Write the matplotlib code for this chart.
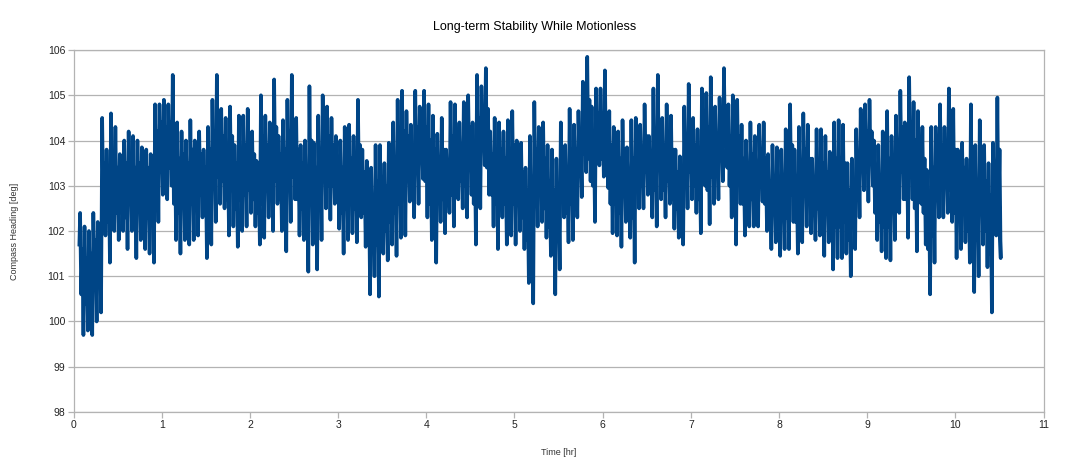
import matplotlib
matplotlib.use("Agg")
import matplotlib.pyplot as plt
import numpy as np

plt.rcParams['font.family'] = ['Liberation Sans', 'DejaVu Sans']

# heading in 0.05 hr bins
# hi/lo = extreme excursions in the bin, core_hi/core_lo = the dense band inside it
t_first = 0.075  # hr, first bin
t_step = 0.05    # hr, bin width
start_pt = (0.066, 101.7)
end_pt = (10.495, 102.6)

heading_hi = [
    102.4, 102.1, 102.0, 102.4, 102.2,
    104.5, 103.8, 104.6, 104.3, 103.7, 104.0, 104.2, 104.1, 104.0, 103.85, 103.8, 103.7,
    104.8, 104.8, 104.9, 104.8, 105.45, 104.4, 104.2, 104.0, 104.45,
    104.0, 104.2, 103.8, 104.3, 104.9, 105.45, 104.7, 104.5, 104.75, 103.9, 104.55, 104.55,
    104.7, 104.2, 103.55, 105.0, 104.55, 104.4, 105.35, 104.1, 104.45, 104.9, 105.45, 104.5,
    103.9, 104.0, 105.2,
    103.95, 104.55, 105.0, 104.75, 104.5, 104.1, 104.0, 104.3, 104.35, 104.1, 104.9, 103.8,
    103.55, 103.4, 103.9, 103.9, 103.5, 103.95, 104.4, 104.9, 105.1, 104.65, 104.35, 105.1,
    104.75, 105.1,
    104.8, 104.55, 104.15, 104.5, 103.8, 104.85, 104.8, 104.4, 104.85, 105.0, 104.4, 105.45,
    105.2, 105.6, 104.2, 104.5, 104.4, 104.2, 104.45, 104.65, 104.0, 103.95, 103.4, 104.1,
    104.85, 104.3,
    104.4, 103.9, 103.8, 103.6, 104.4, 103.9, 104.7, 104.35, 104.65, 105.3, 105.85, 104.75,
    105.15, 105.15, 105.55, 104.65, 104.3, 104.2, 104.45, 103.85, 104.45, 104.5, 104.35,
    104.8, 104.1, 105.15, 105.45,
    104.5, 104.8, 104.55, 103.8, 103.65, 104.75, 105.25, 104.5, 104.25, 105.15, 105.05, 105.4,
    104.75, 104.95, 105.6, 104.8, 105.0, 104.9, 104.35, 104.0, 104.4, 104.1, 104.35, 104.4,
    103.7, 103.9,
    103.85, 103.8, 104.25, 104.8, 103.8, 104.3, 104.6, 104.35, 103.6, 104.25, 104.25, 104.1,
    103.75, 104.4, 104.45, 104.35, 103.5, 103.6, 104.25, 104.7, 104.8, 104.9, 104.0, 103.9,
    104.2, 104.65,
    104.1, 104.55, 105.1, 104.4, 105.4, 104.85, 104.65, 104.3, 103.35, 104.3, 104.3, 104.8,
    104.3, 105.15, 104.7, 103.8, 103.95, 103.6, 104.8, 103.9, 104.45, 103.9, 103.5, 103.95,
    104.95,
]

heading_lo = [
    99.7, 99.8, 99.7, 100.0, 100.2,
    101.9, 101.3, 102.0, 101.8, 102.0, 101.6, 102.0, 101.4, 101.8, 101.6, 101.5, 101.3,
    102.2, 102.8, 102.7, 103.0, 101.8, 101.5, 101.8, 101.7, 101.8,
    101.9, 102.3, 101.4, 101.7, 102.2, 102.6, 102.5, 101.9, 102.1, 101.65, 102.0, 102.1,
    102.4, 102.1, 101.7, 101.85, 102.3, 102.0, 102.6, 102.0, 101.55, 102.2, 102.7, 101.9,
    101.8, 101.1, 101.7,
    101.15, 101.8, 102.5, 102.25, 102.6, 102.05, 101.5, 101.8, 101.95, 101.75, 102.3, 101.65,
    100.6, 101.0, 100.55, 101.5, 101.35, 101.7, 101.45, 101.85, 101.9, 102.65, 102.3, 102.6,
    103.15, 102.3,
    101.8, 101.3, 102.2, 101.95, 102.4, 102.1, 102.7, 102.5, 102.3, 102.8, 101.7, 102.5,
    103.45, 102.8, 102.1, 101.6, 102.3, 101.7, 101.9, 101.7, 102.0, 101.6, 100.85, 100.4,
    102.1, 102.2,
    101.85, 101.45, 100.6, 101.15, 102.3, 101.75, 101.8, 102.3, 102.75, 103.3, 103.1, 102.2,
    103.45, 103.2, 102.95, 101.95, 101.9, 101.65, 102.2, 101.85, 101.3, 102.5, 102.5, 102.8,
    102.3, 102.1, 102.7,
    102.3, 102.6, 102.05, 101.85, 101.7, 102.5, 102.7, 102.4, 101.95, 103.0, 102.15, 102.6,
    102.7, 103.1, 103.4, 102.3, 101.7, 102.6, 101.9, 102.1, 102.1, 102.1, 102.65, 102.0,
    101.6, 101.75,
    101.45, 101.6, 101.6, 102.2, 101.5, 101.75, 102.1, 101.95, 101.8, 101.9, 101.45, 101.75,
    101.15, 101.4, 101.4, 101.5, 101.0, 101.6, 102.3, 102.9, 102.65, 103.0, 101.8, 101.55,
    101.4, 101.35,
    101.8, 102.4, 102.7, 101.85, 102.7, 101.55, 102.6, 101.7, 100.6, 101.3, 102.3, 102.3,
    102.4, 102.2, 101.4, 101.6, 101.75, 101.3, 100.65, 101.0, 101.7, 101.2, 100.2, 101.9,
    101.4,
]

core_hi = [
    101.6, 101.4, 101.5, 101.8, 101.6,
    103.5, 103.3, 103.6, 103.4, 103.2, 103.5, 103.6, 103.4, 103.5, 103.3, 103.4, 103.2,
    104.2, 104.4, 104.3, 104.4,
    104.0, 103.6, 103.7, 103.5, 103.8,
    103.6, 103.7, 103.4, 103.8,
    104.2, 104.3, 104.1, 103.9, 104.1,
    103.5, 103.8, 103.9, 103.9, 103.7,
    103.3, 104.1, 103.9, 103.8, 104.3,
    103.7, 103.8, 104.2, 104.4,
    103.8, 103.5, 103.4, 104.0,
    103.4, 103.8, 104.2, 104.1, 103.9, 103.6,
    103.4, 103.6, 103.6, 103.5, 103.9, 103.3,
    102.9, 102.8, 103.1, 103.2, 103.0, 103.2,
    103.6, 104.0, 104.2,
    104.1, 103.9, 104.3, 104.2, 104.3,
    104.0, 103.8, 103.6, 103.8, 103.4, 104.1, 104.2, 103.9, 104.1, 104.3,
    103.8, 104.5, 104.6, 104.7, 103.7,
    103.8, 103.8, 103.6, 103.8, 103.9, 103.5,
    103.3, 102.9, 103.2, 103.8, 103.6,
    103.6, 103.1, 102.9, 102.9, 103.6, 103.2,
    103.8, 103.8, 104.0,
    104.6, 104.9, 104.2, 104.6, 104.5, 104.6,
    103.9, 103.7, 103.6, 103.8, 103.3, 103.6,
    103.9, 103.8, 104.1, 103.6, 104.2, 104.4,
    103.9, 104.0, 103.8, 103.3, 103.2,
    104.1, 104.3, 103.9, 103.7,
    104.4, 104.3, 104.5, 104.1, 104.3, 104.6,
    104.1, 104.0, 104.1, 103.6, 103.5, 103.7, 103.5,
    103.7, 103.6, 103.1, 103.2,
    103.2, 103.1, 103.4, 103.9, 103.2, 103.5,
    103.8, 103.6, 103.1, 103.5, 103.5, 103.3,
    103.1, 103.6, 103.6, 103.5, 102.9, 103.0,
    103.7, 104.1, 104.2, 104.2,
    103.3, 103.2, 103.4, 103.6,
    103.5, 103.9, 104.3, 103.8, 104.4, 104.0, 103.9,
    103.6, 102.8, 103.4,
    103.6, 103.9, 103.7, 104.1, 103.8,
    103.2, 103.4, 103.0, 103.7, 103.1, 103.6, 103.1, 102.8, 103.3, 103.8,
]

core_lo = [
    100.6, 100.4, 100.5, 100.9, 100.8,
    102.5, 102.2, 102.6, 102.4, 102.5, 102.3, 102.6, 102.3, 102.5, 102.4, 102.3, 102.3,
    103.1, 103.3, 103.2, 103.4,
    102.6, 102.4, 102.6, 102.5, 102.6,
    102.6, 102.8, 102.4, 102.6,
    103.0, 103.2, 103.1, 102.7, 102.9,
    102.5, 102.7, 102.8, 102.9, 102.7,
    102.4, 102.6, 102.9, 102.7, 103.1,
    102.7, 102.5, 102.9, 103.2,
    102.7, 102.5, 102.2, 102.6,
    102.3, 102.6, 103.1, 103.0, 103.0, 102.7,
    102.4, 102.5, 102.6, 102.5, 102.8, 102.4,
    101.7, 101.8, 101.7, 102.1, 102.0, 102.2,
    102.4, 102.6, 102.8,
    103.2, 103.0, 103.3, 103.6, 103.1,
    102.6, 102.4, 102.8, 102.7, 102.9, 102.8, 103.3, 103.1, 103.0, 103.4,
    102.6, 103.1, 103.8, 103.4, 102.8,
    102.6, 102.9, 102.6, 102.7, 102.6, 102.7,
    102.3, 101.8, 101.6, 102.7, 102.8,
    102.5, 102.1, 101.6, 101.9, 102.8, 102.4,
    102.6, 102.9, 103.3,
    103.7, 103.6, 103.0, 103.8, 103.6, 103.5,
    102.6, 102.6, 102.4, 102.8, 102.5, 102.3,
    103.1, 103.0, 103.3, 102.9, 102.9, 103.4,
    102.9, 103.1, 102.7, 102.5, 102.4,
    103.0, 103.3, 103.0, 102.7,
    103.5, 102.9, 103.2, 103.3, 103.6, 103.9,
    103.0, 102.6, 103.1, 102.6, 102.7, 102.7, 102.7,
    103.1, 102.6, 102.2, 102.4,
    102.2, 102.3, 102.3, 102.8, 102.2, 102.4,
    102.8, 102.6, 102.4, 102.5, 102.2, 102.4,
    101.9, 102.1, 102.1, 102.2, 101.8, 102.2,
    102.9, 103.5, 103.3, 103.5,
    102.4, 102.2, 102.1, 102.1,
    102.5, 103.0, 103.3, 102.7, 103.4, 102.5, 103.1,
    102.4, 101.6, 101.9,
    102.8, 102.9, 103.0, 102.9, 102.4,
    102.3, 102.4, 102.0, 101.9, 101.8, 102.4, 102.0, 101.5, 102.5, 102.3,
]

x_ticks = list(range(0, 12))
y_ticks = list(range(98, 107))

n = len(heading_hi)
assert len(heading_lo) == n and len(core_hi) == n and len(core_lo) == n

# one trace: in each bin go hi -> core_lo -> core_hi -> lo
t0 = t_first + t_step * np.arange(n)
t = np.empty(4 * n)
y = np.empty(4 * n)
for j, vals in enumerate([heading_hi, core_lo, core_hi, heading_lo]):
    t[j::4] = t0 + j * t_step / 4
    y[j::4] = vals
t = np.concatenate(([start_pt[0]], t, [end_pt[0]]))
y = np.concatenate(([start_pt[1]], y, [end_pt[1]]))

fig = plt.figure(figsize=(10.7, 4.67), dpi=100)
ax = fig.add_axes([0.0687, 0.1178, 0.9067, 0.7751])

ax.plot(t, y, color='#004586', linewidth=2.6, zorder=3)

grid_c = '#b3b3b3'
ax.set_xlim(0, 11)
ax.set_ylim(98, 106)
ax.set_xticks(x_ticks)
ax.set_yticks(y_ticks)
ax.yaxis.grid(True, color=grid_c, linewidth=0.9)
ax.set_axisbelow(True)
for s in ax.spines.values():
    s.set_color(grid_c)
    s.set_linewidth(0.9)
ax.tick_params(colors=grid_c, labelcolor='#222222', labelsize=7.5, length=4, width=0.9, pad=2)

ax.set_xlabel('Time [hr]', fontsize=6.5, color='#333333', labelpad=13)
ax.set_ylabel('Compass Heading [deg]', fontsize=6.5, color='#333333', labelpad=21)
fig.suptitle('Long-term Stability While Motionless', fontsize=9, y=0.955, x=0.5)

fig.savefig('out.png', dpi=100)
